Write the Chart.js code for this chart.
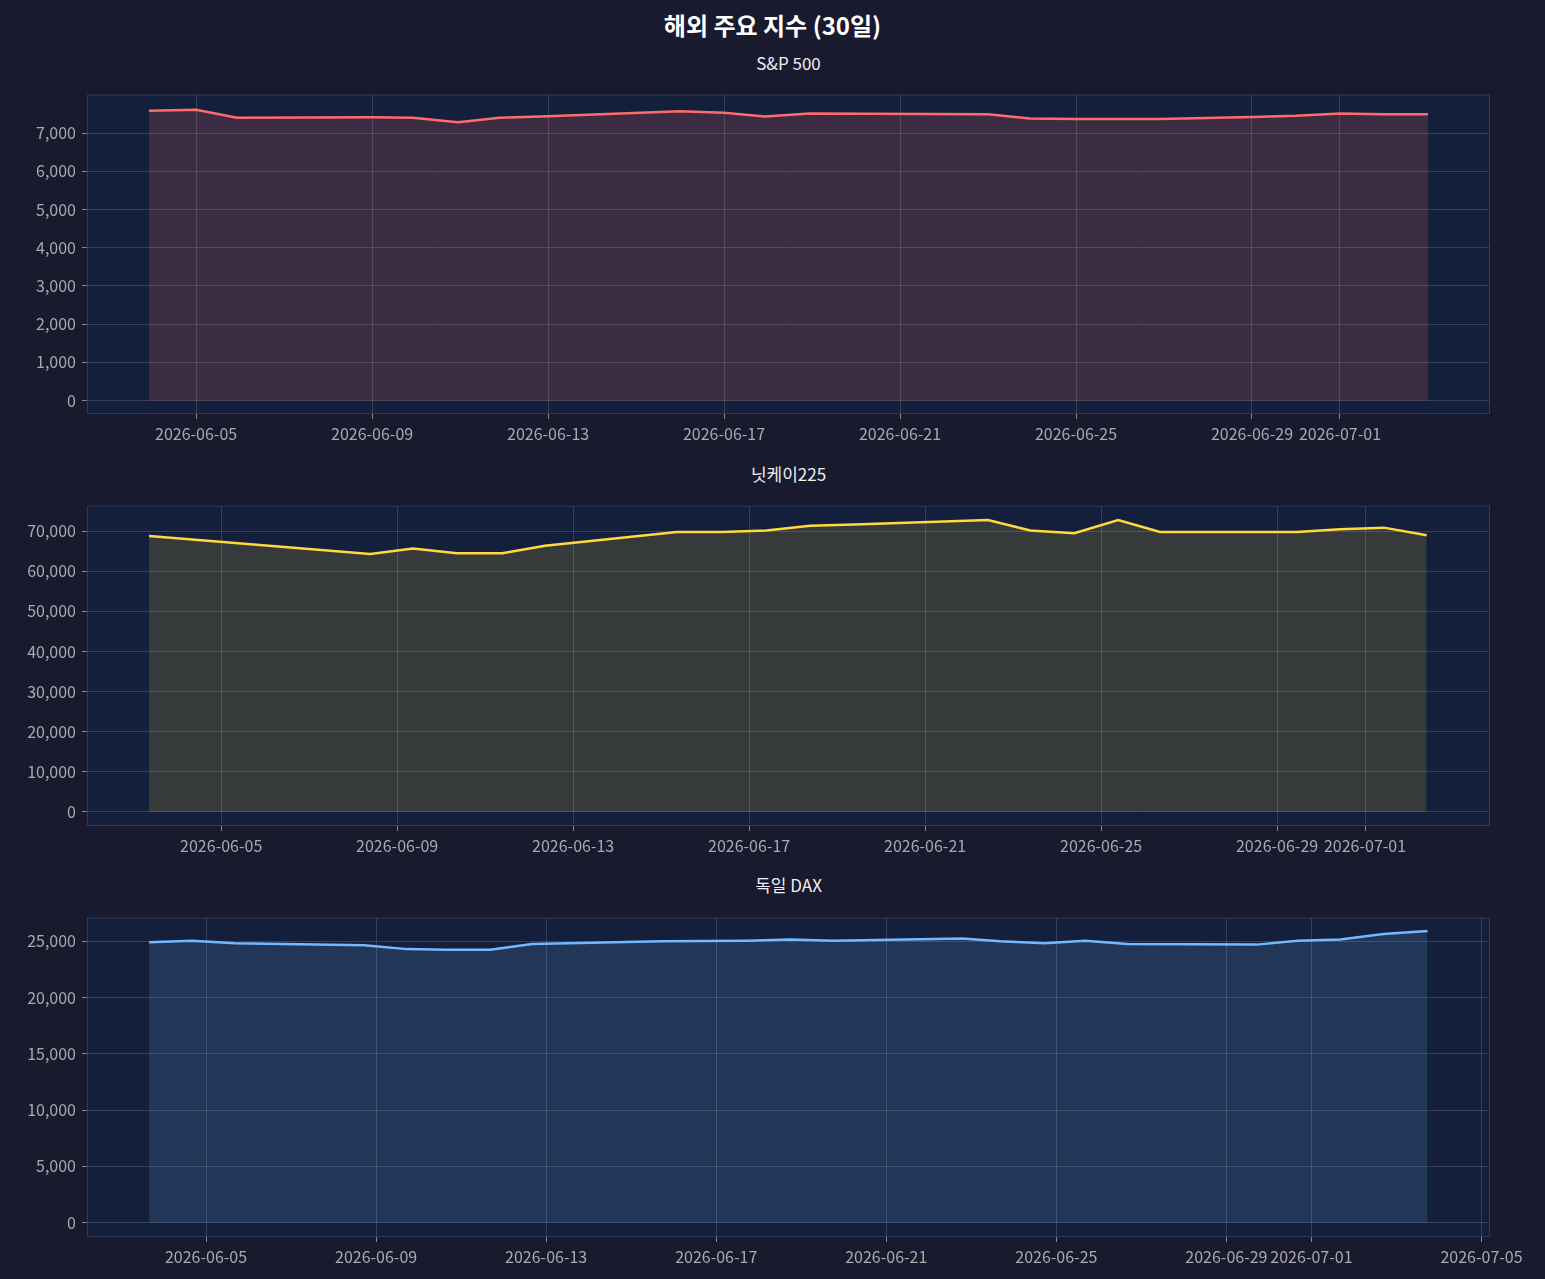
<!DOCTYPE html>
<html><head><meta charset="utf-8">
<script src="https://cdn.jsdelivr.net/npm/chart.js@4"></script>
<style>
body{margin:0;background:#1a1a2e;width:1545px;height:1279px;overflow:hidden;position:relative;font-family:"Noto Sans CJK KR","Noto Sans",sans-serif}
#t{position:absolute;top:7px;left:0;width:1545px;text-align:center;color:#fff;font-size:24px;font-weight:bold}
.s{position:absolute;left:87px;width:1403px;text-align:center;color:#eee;font-size:17px}
.c{position:absolute;left:0;width:1545px}
</style></head><body>
<div id="t">해외 주요 지수 (30일)</div>
<div class="s" style="top:50px">S&amp;P 500</div>
<div class="s" style="top:461px">닛케이225</div>
<div class="s" style="top:872px">독일 DAX</div>
<div class="c" style="top:79px;height:385px"><canvas id="c1"></canvas></div>
<div class="c" style="top:490px;height:386px"><canvas id="c2"></canvas></div>
<div class="c" style="top:902px;height:385px"><canvas id="c3"></canvas></div>
<script>
// x = day offset from 2026-06-00 (day 31 = 2026-07-01)
const spDays=[3.93,5,5.93,9,9.93,10.95,11.9,13,16,17,17.93,18.95,23,23.95,25,26.9,29,30,31,32,33];
const spVals=[7580,7610,7400,7410,7400,7280,7400,7440,7570,7530,7430,7510,7490,7380,7370,7370,7420,7450,7510,7490,7490];
const nkDays=[3.36,8.39,9.36,10.36,11.39,12.36,15.36,16.39,17.39,18.39,19.39,22.43,23.39,24.39,25.39,26.34,29.45,30.43,31.43,32.4];
const nkVals=[68800,64300,65700,64500,64500,66400,69800,69800,70200,71400,71700,72800,70200,69500,72800,69800,69800,70500,70900,69000];
const dxDays=[3.66,4.67,5.68,8.72,9.73,10.67,11.68,12.67,15.71,17.73,18.74,19.75,22.79,23.68,24.72,25.68,26.67,29.71,30.67,31.68,32.69,33.73];
const dxVals=[24900,25050,24830,24650,24300,24250,24250,24750,25000,25050,25150,25050,25250,25000,24830,25050,24750,24700,25050,25150,25650,25900];
const xTicks1=[5,9,13,17,21,25,29,31];
const xTicks3=[5,9,13,17,21,25,29,31,35];
const yTicksSP=[0,1000,2000,3000,4000,5000,6000,7000];
const yTicksNK=[0,10000,20000,30000,40000,50000,60000,70000];
const yTicksDX=[0,5000,10000,15000,20000,25000];

function dayLabel(d){
  const m=d>30?7:6, dd=d>30?d-30:d;
  return '2026-0'+m+'-'+String(dd).padStart(2,'0');
}
const bgPlugin={id:'bg',beforeDraw(c){const a=c.chartArea,x=c.ctx;x.save();x.fillStyle='#141f3b';x.fillRect(a.left,a.top,a.right-a.left,a.bottom-a.top);x.restore();},
 afterDraw(c){const a=c.chartArea,x=c.ctx;x.save();x.strokeStyle='#2c3a5c';x.lineWidth=1;x.strokeRect(a.left+0.5,a.top+0.5,a.right-a.left-1,a.bottom-a.top-1);x.restore();}};
Chart.defaults.font.family='"Noto Sans CJK KR","Noto Sans",sans-serif';
function make(id,days,vals,line,fill,xr,yr,xt,yt){
  new Chart(document.getElementById(id),{type:'line',
   data:{datasets:[{data:days.map((d,i)=>({x:d,y:vals[i]})),borderColor:line,backgroundColor:fill,fill:'origin',borderWidth:2.5,pointRadius:0,tension:0}]},
   options:{responsive:true,maintainAspectRatio:false,animation:false,devicePixelRatio:1,
    layout:{padding:{left:0,right:55,top:0,bottom:0}},
    plugins:{legend:{display:false},tooltip:{enabled:false},title:{display:false}},
    scales:{
     x:{type:'linear',min:xr[0],max:xr[1],afterBuildTicks:s=>{s.ticks=xt.map(v=>({value:v}));},
        afterFit:s=>{s.height=50;},
        ticks:{color:'#aaaaaa',font:{size:16},maxRotation:0,autoSkip:false,padding:5,callback:v=>dayLabel(v)},
        grid:{color:'rgba(255,255,255,0.15)',drawTicks:true,tickLength:5,tickColor:'#888'},border:{display:false}},
     y:{min:yr[0],max:yr[1],afterBuildTicks:s=>{s.ticks=yt.map(v=>({value:v}));},
        afterFit:s=>{s.width=87;},
        ticks:{color:'#aaaaaa',font:{size:16},padding:6,callback:v=>v.toLocaleString('en-US')},
        grid:{color:'rgba(255,255,255,0.15)',tickLength:5,tickColor:'#888'},border:{display:false}}
    }},plugins:[bgPlugin]});
}
make('c1',spDays,spVals,'#ff6b6b','rgba(255,107,107,0.17)',[2.52,34.41],[-350,8005],xTicks1,yTicksSP);
make('c2',nkDays,nkVals,'#ffd93d','rgba(255,217,61,0.15)',[1.95,33.84],[-3570,76400],xTicks1,yTicksNK);
make('c3',dxDays,dxVals,'#74b9ff','rgba(116,185,255,0.15)',[2.2,35.2],[-1270,27100],xTicks3,yTicksDX);
</script></body></html>
